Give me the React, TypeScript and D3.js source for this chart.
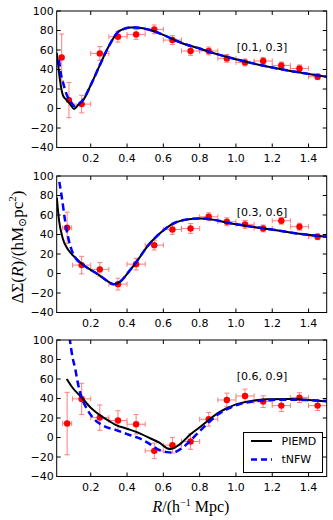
import React from "react";
import * as d3 from "d3";

const X_TICKS = [0.2, 0.4, 0.6, 0.8, 1.0, 1.2, 1.4];
const Y_TICKS = [-40, -20, 0, 20, 40, 60, 80, 100];
const BIN_LABELS = ["[0.1, 0.3]", "[0.3, 0.6]", "[0.6, 0.9]"];
const LEGEND_LABELS = ["PIEMD", "tNFW"];

// Panel 1 data
const p1R = [0.04, 0.08, 0.15, 0.25, 0.35, 0.45, 0.55, 0.65, 0.75, 0.85, 0.95, 1.05, 1.15, 1.25, 1.35, 1.45];
const p1S = [52.4, 8.6, 4.5, 56.5, 73.6, 76, 81.2, 70.2, 59, 59, 51.4, 47.3, 48.7, 44.2, 41.1, 32.6];
const p1E = [24, 18, 9, 7, 5.5, 5, 4.5, 4.5, 4.5, 4, 4, 3.5, 3.5, 3.5, 3.5, 3];
const p1XE = [0.01, 0.01, 0.05, 0.05, 0.05, 0.05, 0.05, 0.05, 0.05, 0.05, 0.05, 0.05, 0.05, 0.05, 0.05, 0.05];
const p1Piemd: [number, number][] = [
  [0.013, 57], [0.02, 46], [0.03, 30], [0.046, 14], [0.06, 10], [0.077, 6.8], [0.09, 3.5], [0.108, -0.5],
  [0.13, 3.5], [0.16, 9], [0.2, 24], [0.25, 44.5], [0.3, 64], [0.35, 78.5], [0.38, 81.5], [0.417, 83.2],
  [0.45, 83], [0.527, 80.5], [0.6, 75.5], [0.69, 68], [0.8, 61.5], [0.9, 55.5], [1.0, 50.5], [1.1, 46],
  [1.2, 42], [1.3, 38.5], [1.4, 35.5], [1.5, 32.5],
];
const p1Nfw: [number, number][] = [
  [0.025, 50], [0.035, 36], [0.049, 25.5], [0.068, 14], [0.095, 5.5], [0.114, 2], [0.13, 4], [0.16, 9.5],
  [0.2, 24], [0.25, 44.5], [0.3, 64], [0.35, 78.5], [0.38, 81.5], [0.417, 83.2], [0.45, 83], [0.527, 80.5],
  [0.6, 75.5], [0.69, 68], [0.8, 61.5], [0.9, 55.5], [1.0, 50.5], [1.1, 46], [1.2, 42], [1.3, 38.5],
  [1.4, 35.5], [1.5, 32.5],
];

// Panel 2 data
const p2R = [0.07, 0.15, 0.25, 0.35, 0.45, 0.55, 0.65, 0.75, 0.85, 0.95, 1.05, 1.15, 1.25, 1.35, 1.45];
const p2S = [46.9, 8.6, 4.2, -10.9, 9.6, 29.1, 45.2, 46.2, 58.2, 53.1, 50.4, 46.2, 54.1, 48, 37.7];
const p2E = [16, 9, 7, 6, 6, 5, 5, 5, 4, 4, 4, 3.5, 3.5, 3.5, 3];
const p2XE = [0.025, 0.05, 0.05, 0.05, 0.05, 0.05, 0.05, 0.05, 0.05, 0.05, 0.05, 0.05, 0.05, 0.05, 0.05];
const p2Piemd: [number, number][] = [
  [0.013, 78], [0.025, 55], [0.046, 36], [0.077, 24], [0.114, 16.5], [0.16, 8.6], [0.233, 0], [0.29, -7.5],
  [0.325, -11], [0.36, -8.6], [0.417, 3.5], [0.46, 14], [0.51, 27.4], [0.58, 41], [0.656, 51.4], [0.73, 55.5],
  [0.8, 56.5], [0.88, 55], [0.967, 51.6], [1.06, 48.8], [1.152, 46.3], [1.25, 43.6], [1.336, 41.1],
  [1.42, 39.3], [1.5, 37.7],
];
const p2Nfw: [number, number][] = [
  [0.027, 94], [0.04, 79], [0.058, 55], [0.077, 36], [0.095, 24], [0.114, 16.5], [0.16, 8.6], [0.233, 0],
  [0.29, -7.5], [0.325, -11], [0.36, -8.6], [0.417, 3.5], [0.46, 14], [0.51, 27.4], [0.58, 41], [0.656, 51.4],
  [0.73, 55.5], [0.8, 56.5], [0.88, 55], [0.967, 51.6], [1.06, 48.8], [1.152, 46.3], [1.25, 43.6],
  [1.336, 41.1], [1.42, 39.3], [1.5, 37.7],
];

// Panel 3 data
const p3R = [0.07, 0.15, 0.25, 0.35, 0.45, 0.55, 0.65, 0.75, 0.85, 0.95, 1.05, 1.15, 1.25, 1.35, 1.45];
const p3S = [14.3, 39.6, 20.4, 17.4, 13.6, -13.7, -7.9, -4.1, 18.7, 38.5, 42.6, 36.8, 32.7, 40.9, 32.7];
const p3E = [32, 16, 13, 10, 10, 8, 8, 8, 7, 7, 7, 6, 6, 5, 5];
const p3XE = [0.025, 0.05, 0.05, 0.05, 0.05, 0.05, 0.05, 0.05, 0.05, 0.05, 0.05, 0.05, 0.05, 0.05, 0.05];
const p3Piemd: [number, number][] = [
  [0.068, 60], [0.1, 51], [0.15, 41], [0.2, 30.5], [0.25, 23], [0.3, 17], [0.34, 12.7], [0.4, 9],
  [0.45, 5.8], [0.53, -1], [0.58, -5.5], [0.62, -11], [0.64, -11.8], [0.656, -11], [0.7, -5.5],
  [0.748, 3], [0.8, 10.5], [0.85, 18], [0.9, 25], [0.95, 30], [1.0, 34], [1.06, 36.8], [1.12, 38.5],
  [1.17, 39.2], [1.3, 39.5], [1.4, 38.5], [1.5, 36.8],
];
const p3Nfw: [number, number][] = [
  [0.083, 103], [0.1, 82], [0.114, 71], [0.13, 55], [0.15, 41], [0.18, 29], [0.215, 19.6], [0.27, 12],
  [0.34, 7.6], [0.4, 3.5], [0.47, -1], [0.52, -6], [0.58, -13], [0.62, -15], [0.655, -15.3], [0.7, -11.3],
  [0.75, -3], [0.8, 6.5], [0.85, 15.5], [0.9, 23.5], [0.95, 29], [1.0, 33], [1.06, 36], [1.12, 37.5],
  [1.2, 38.5], [1.3, 38.8], [1.4, 38.3], [1.5, 37.5],
];

const PANELS = [
  { r: p1R, s: p1S, e: p1E, xe: p1XE, piemd: p1Piemd, nfw: p1Nfw, label: BIN_LABELS[0] },
  { r: p2R, s: p2S, e: p2E, xe: p2XE, piemd: p2Piemd, nfw: p2Nfw, label: BIN_LABELS[1] },
  { r: p3R, s: p3S, e: p3E, xe: p3XE, piemd: p3Piemd, nfw: p3Nfw, label: BIN_LABELS[2] },
];

const W = 333;
const H = 520;
const LEFT = 56.7;
const RIGHT = 326.7;
const TOPS = [11, 176, 340];
const PH = 136.5;
const FONT = "DejaVu Sans, sans-serif";
const SERIF = "'Liberation Serif', 'DejaVu Serif', serif";

function fmtX(v: number) {
  return v.toFixed(1);
}
function fmtY(v: number) {
  return v < 0 ? "\u2212" + Math.abs(v) : String(v);
}

function Panel({ idx }: { idx: number }) {
  const p = PANELS[idx];
  const top = TOPS[idx];
  const x = d3.scaleLinear().domain([0.0125, 1.5]).range([LEFT, RIGHT]);
  const y = d3.scaleLinear().domain([-40, 100]).range([top + PH, top]);
  const line = d3
    .line<[number, number]>()
    .x((d) => x(d[0]))
    .y((d) => y(d[1]))
    .curve(d3.curveMonotoneX);
  const clipId = `clip${idx}`;
  const tl = 4;
  const cap = 2.5;
  return (
    <g>
      <defs>
        <clipPath id={clipId}>
          <rect x={LEFT} y={top} width={RIGHT - LEFT} height={PH} />
        </clipPath>
      </defs>
      <g clipPath={`url(#${clipId})`}>
        {p.r.map((rv, i) => {
          const cx = x(rv);
          const cy = y(p.s[i]);
          const y0 = y(p.s[i] - p.e[i]);
          const y1 = y(p.s[i] + p.e[i]);
          const x0 = x(rv - p.xe[i]);
          const x1 = x(rv + p.xe[i]);
          return (
            <g key={i} stroke="#ff7070" strokeWidth={1} opacity={0.9}>
              <line x1={cx} x2={cx} y1={y0} y2={y1} />
              <line x1={cx - cap} x2={cx + cap} y1={y0} y2={y0} />
              <line x1={cx - cap} x2={cx + cap} y1={y1} y2={y1} />
              <line x1={x0} x2={x1} y1={cy} y2={cy} />
              <line x1={x0} x2={x0} y1={cy - cap} y2={cy + cap} />
              <line x1={x1} x2={x1} y1={cy - cap} y2={cy + cap} />
            </g>
          );
        })}
        {p.r.map((rv, i) => (
          <circle key={"c" + i} cx={x(rv)} cy={y(p.s[i])} r={3.2} fill="#ff0000" />
        ))}
        <path d={line(p.piemd) || ""} fill="none" stroke="#000" strokeWidth={2} />
        <path d={line(p.nfw) || ""} fill="none" stroke="#0000ff" strokeWidth={2.5} strokeDasharray="7,4" />
      </g>
      <rect x={LEFT} y={top} width={RIGHT - LEFT} height={PH} fill="none" stroke="#000" strokeWidth={1} />
      {X_TICKS.map((t) => (
        <g key={"x" + t}>
          <line x1={x(t)} x2={x(t)} y1={top + PH} y2={top + PH - tl} stroke="#000" />
          <line x1={x(t)} x2={x(t)} y1={top} y2={top + tl} stroke="#000" />
          <text x={x(t)} y={top + PH + 14} textAnchor="middle" fontSize={11} fontFamily={FONT} fill="#000">
            {fmtX(t)}
          </text>
        </g>
      ))}
      {Y_TICKS.map((t) => (
        <g key={"y" + t}>
          <line x1={LEFT} x2={LEFT + tl} y1={y(t)} y2={y(t)} stroke="#000" />
          <line x1={RIGHT} x2={RIGHT - tl} y1={y(t)} y2={y(t)} stroke="#000" />
          <text x={LEFT - 3} y={y(t)} dy="0.36em" textAnchor="end" fontSize={11} fontFamily={FONT} fill="#000">
            {fmtY(t)}
          </text>
        </g>
      ))}
      <text x={262} y={top + 36} dy="0.36em" textAnchor="middle" fontSize={11} fontFamily={FONT} fill="#000">
        {p.label}
      </text>
    </g>
  );
}

export default function App() {
  return (
    <svg width={W} height={H} style={{ display: "block", position: "absolute", left: 0, top: 0 }}>
      <rect x={0} y={0} width={W} height={H} fill="#fff" />
      {PANELS.map((_, i) => (
        <Panel key={i} idx={i} />
      ))}
      <g transform="translate(23,247) rotate(-90)">
        <text textAnchor="middle" fontSize={17} fontFamily={SERIF} fill="#000">
          <tspan>ΔΣ(</tspan>
          <tspan fontStyle="italic">R</tspan>
          <tspan>)/(hM</tspan>
          <tspan fontSize={11} dy={3}>⊙</tspan>
          <tspan dy={-3}>pc</tspan>
          <tspan fontSize={11} dy={-7}>2</tspan>
          <tspan dy={7}>)</tspan>
        </text>
      </g>
      <text x={191} y={512} textAnchor="middle" fontSize={16} fontFamily={SERIF} fill="#000">
        <tspan fontStyle="italic">R</tspan>
        <tspan>/(h</tspan>
        <tspan fontSize={10} dy={-6}>−1</tspan>
        <tspan dy={6}> Mpc)</tspan>
      </text>
      <g>
        <rect x={243.5} y={432.5} width={79} height={40} fill="#fff" stroke="#000" strokeWidth={1} />
        <line x1={251} x2={272} y1={441} y2={441} stroke="#000" strokeWidth={2} />
        <text x={281.5} y={441} dy="0.36em" fontSize={11} fontFamily={FONT} fill="#000">
          {LEGEND_LABELS[0]}
        </text>
        <line x1={251} x2={272} y1={459.5} y2={459.5} stroke="#0000ff" strokeWidth={2.5} strokeDasharray="6,4" />
        <text x={281.5} y={459.5} dy="0.36em" fontSize={11} fontFamily={FONT} fill="#000">
          {LEGEND_LABELS[1]}
        </text>
      </g>
    </svg>
  );
}
